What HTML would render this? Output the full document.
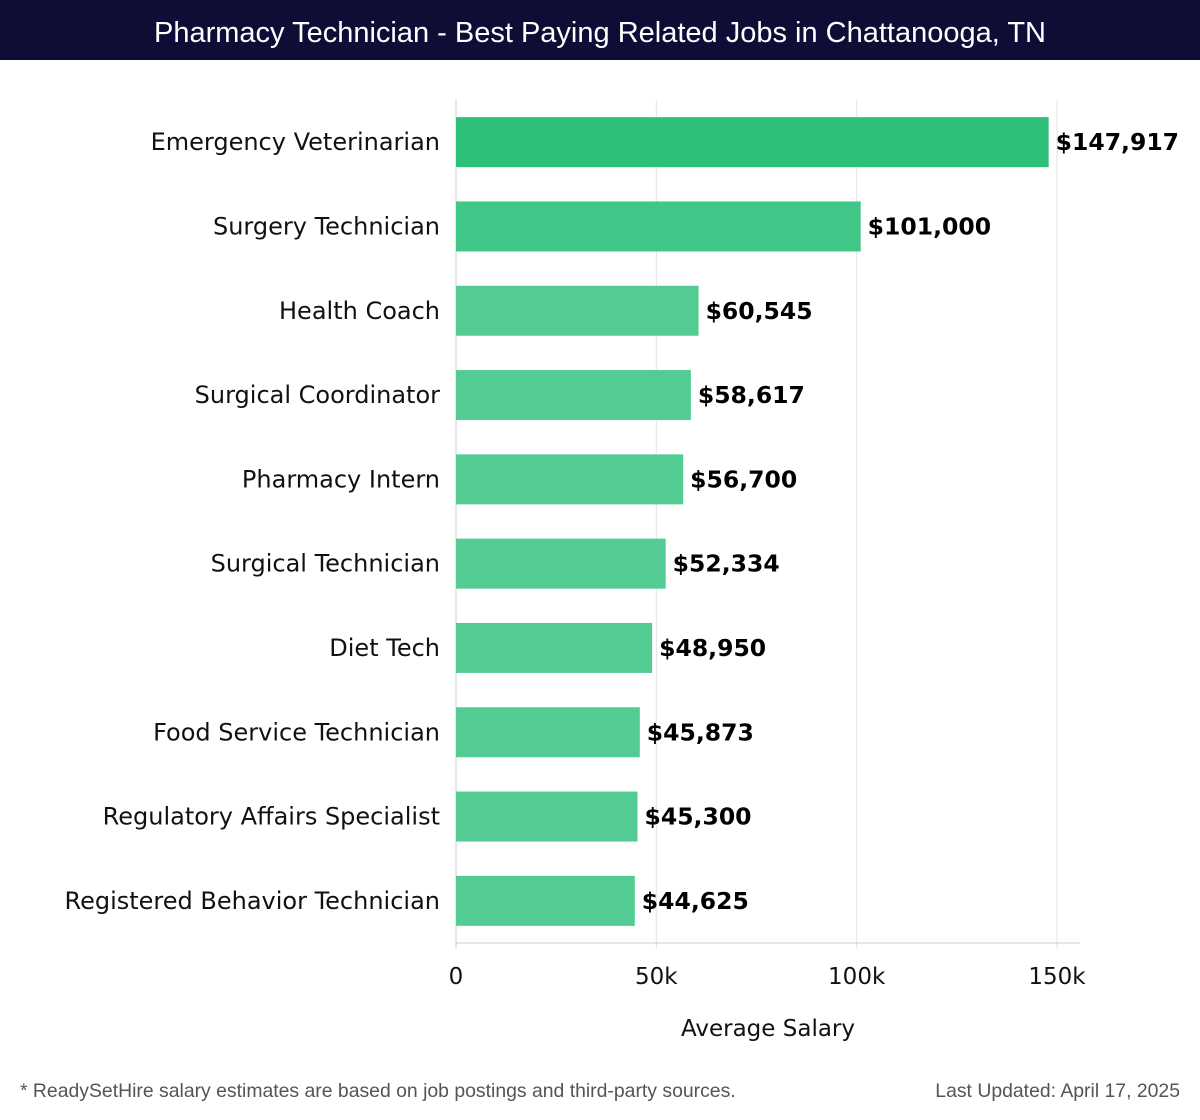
<!DOCTYPE html>
<html><head><meta charset="utf-8"><style>
body{margin:0;width:1200px;height:1120px;background:#fff;font-family:"Liberation Sans","DejaVu Sans",sans-serif;position:relative;overflow:hidden}
#title{position:absolute;left:0;top:0;width:1200px;height:60px;background:#0d0d35;color:#fff;font-size:29px;line-height:66px;text-align:center}
.foot{position:absolute;top:1080px;font-size:19.4px;color:#555}
svg text{font-family:"DejaVu Sans","Liberation Sans",sans-serif}
</style></head><body>
<svg id="chart" width="1200" height="1120" style="position:absolute;left:0;top:0"></svg>
<div id="title">Pharmacy Technician - Best Paying Related Jobs in Chattanooga, TN</div>
<div class="foot" style="left:20px">* ReadySetHire salary estimates are based on job postings and third-party sources.</div>
<div class="foot" style="right:20px">Last Updated: April 17, 2025</div>
<script>
const categories=["Emergency Veterinarian","Surgery Technician","Health Coach","Surgical Coordinator","Pharmacy Intern","Surgical Technician","Diet Tech","Food Service Technician","Regulatory Affairs Specialist","Registered Behavior Technician"];
const values=[147917,101000,60545,58617,56700,52334,48950,45873,45300,44625];
const valueLabels=["$147,917","$101,000","$60,545","$58,617","$56,700","$52,334","$48,950","$45,873","$45,300","$44,625"];
const ticks=[0,50000,100000,150000];
const tickLabels=["0","50k","100k","150k"];
const svg=document.getElementById('chart');const NS="http://www.w3.org/2000/svg";
const x0=456,x1=1057,plotTop=100,plotBottom=943;
const xs=v=>x0+(v/150000)*(x1-x0);
const band=(plotBottom-plotTop)/categories.length;
const ys=i=>plotTop+i*band;
function mk(t,a){const e=document.createElementNS(NS,t);for(const k in a)e.setAttribute(k,a[k]);svg.appendChild(e);return e;}
ticks.forEach((t,i)=>{
 const g=mk('line',{x1:xs(t),x2:xs(t),y1:plotTop,y2:plotBottom+6,stroke:i==0?'#ccc':'#e3e3e3','stroke-width':1});
 
 
 const l=mk('text',{x:xs(t),y:984,'text-anchor':'middle','font-size':23,fill:'#111'});l.textContent=tickLabels[i];
 
 
});
const ax=mk('line',{x1:x0,x2:1080,y1:plotBottom,y2:plotBottom,stroke:'#ccc'});


const at=mk('text',{x:768,y:1036,'text-anchor':'middle','font-size':23,fill:'#111'});at.textContent="Average Salary";


categories.forEach((c,i)=>{
 const y=ys(i)+band/2;
 const r=mk('rect',{x:x0,y:y-25,width:xs(values[i])-x0,height:50,fill:i==0?'#2dbf78':(i==1?'#40c687':'#53cc94')});
 
 
 const t=mk('text',{x:440,y:y+8,'text-anchor':'end','font-size':24,fill:'#111'});t.textContent=c;
 
 
 const v=mk('text',{x:xs(values[i])+7,y:y+8,'font-size':23.5,'font-weight':'bold',fill:'#000'});v.textContent=valueLabels[i];
 
 
});
</script>
</body></html>
